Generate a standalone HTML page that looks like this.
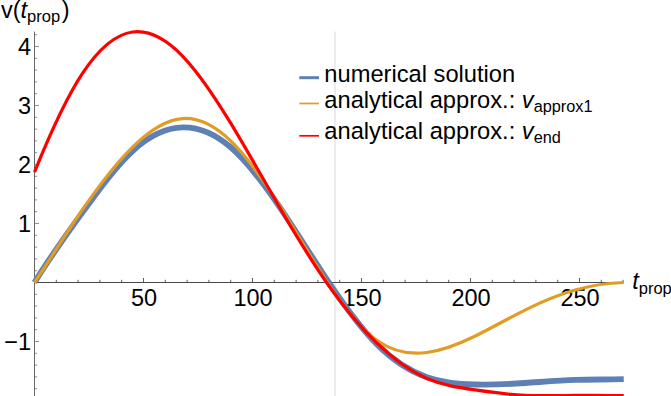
<!DOCTYPE html>
<html><head><meta charset="utf-8"><style>
html,body{margin:0;padding:0;background:#fff;overflow:hidden;}
svg{display:block;font-family:"Liberation Sans",sans-serif;font-size:23.5px;fill:#000;}
.ax line{stroke:#686868;stroke-width:1;}
.ax .tk line{stroke:#6e6e6e;stroke-width:0.75;}
.ax .xa{stroke:#484848;}
.ax .xt line{stroke:#4c4c4c;stroke-width:0.9;}
.sub{font-size:16.5px;}
.lg{font-size:23.7px;}
.lg .sub{font-size:16.3px;}
</style></head><body>
<svg width="671" height="396" viewBox="0 0 671 396">
<rect width="671" height="396" fill="#fff"/>
<line x1="335" y1="31.6" x2="335" y2="396" stroke="#ececec" stroke-width="2"/>
<g class="ax">
<line class="xa" x1="34.5" y1="282.5" x2="623.8" y2="282.5"/>
<line x1="34.5" y1="31.6" x2="34.5" y2="396"/>
<g class="tk"><line x1="34.5" y1="388.7" x2="37.2" y2="388.7"/><line x1="34.5" y1="376.9" x2="37.2" y2="376.9"/><line x1="34.5" y1="365.1" x2="37.2" y2="365.1"/><line x1="34.5" y1="353.3" x2="37.2" y2="353.3"/><line x1="34.5" y1="341.5" x2="39.0" y2="341.5"/><line x1="34.5" y1="329.7" x2="37.2" y2="329.7"/><line x1="34.5" y1="317.9" x2="37.2" y2="317.9"/><line x1="34.5" y1="306.1" x2="37.2" y2="306.1"/><line x1="34.5" y1="294.3" x2="37.2" y2="294.3"/><line x1="34.5" y1="270.7" x2="37.2" y2="270.7"/><line x1="34.5" y1="258.9" x2="37.2" y2="258.9"/><line x1="34.5" y1="247.1" x2="37.2" y2="247.1"/><line x1="34.5" y1="235.3" x2="37.2" y2="235.3"/><line x1="34.5" y1="223.5" x2="39.0" y2="223.5"/><line x1="34.5" y1="211.7" x2="37.2" y2="211.7"/><line x1="34.5" y1="199.9" x2="37.2" y2="199.9"/><line x1="34.5" y1="188.1" x2="37.2" y2="188.1"/><line x1="34.5" y1="176.3" x2="37.2" y2="176.3"/><line x1="34.5" y1="164.5" x2="39.0" y2="164.5"/><line x1="34.5" y1="152.7" x2="37.2" y2="152.7"/><line x1="34.5" y1="140.9" x2="37.2" y2="140.9"/><line x1="34.5" y1="129.1" x2="37.2" y2="129.1"/><line x1="34.5" y1="117.3" x2="37.2" y2="117.3"/><line x1="34.5" y1="105.5" x2="39.0" y2="105.5"/><line x1="34.5" y1="93.7" x2="37.2" y2="93.7"/><line x1="34.5" y1="81.9" x2="37.2" y2="81.9"/><line x1="34.5" y1="70.1" x2="37.2" y2="70.1"/><line x1="34.5" y1="58.3" x2="37.2" y2="58.3"/><line x1="34.5" y1="46.5" x2="39.0" y2="46.5"/><line x1="34.5" y1="34.7" x2="37.2" y2="34.7"/></g><g class="xt"><line x1="56.3" y1="282.5" x2="56.3" y2="279.8"/><line x1="78.1" y1="282.5" x2="78.1" y2="279.8"/><line x1="99.9" y1="282.5" x2="99.9" y2="279.8"/><line x1="121.7" y1="282.5" x2="121.7" y2="279.8"/><line x1="143.5" y1="282.5" x2="143.5" y2="278.0"/><line x1="165.3" y1="282.5" x2="165.3" y2="279.8"/><line x1="187.1" y1="282.5" x2="187.1" y2="279.8"/><line x1="208.9" y1="282.5" x2="208.9" y2="279.8"/><line x1="230.7" y1="282.5" x2="230.7" y2="279.8"/><line x1="252.5" y1="282.5" x2="252.5" y2="278.0"/><line x1="274.3" y1="282.5" x2="274.3" y2="279.8"/><line x1="296.1" y1="282.5" x2="296.1" y2="279.8"/><line x1="317.9" y1="282.5" x2="317.9" y2="279.8"/><line x1="339.7" y1="282.5" x2="339.7" y2="279.8"/><line x1="361.5" y1="282.5" x2="361.5" y2="278.0"/><line x1="383.3" y1="282.5" x2="383.3" y2="279.8"/><line x1="405.1" y1="282.5" x2="405.1" y2="279.8"/><line x1="426.9" y1="282.5" x2="426.9" y2="279.8"/><line x1="448.7" y1="282.5" x2="448.7" y2="279.8"/><line x1="470.5" y1="282.5" x2="470.5" y2="278.0"/><line x1="492.3" y1="282.5" x2="492.3" y2="279.8"/><line x1="514.1" y1="282.5" x2="514.1" y2="279.8"/><line x1="535.9" y1="282.5" x2="535.9" y2="279.8"/><line x1="557.7" y1="282.5" x2="557.7" y2="279.8"/><line x1="579.5" y1="282.5" x2="579.5" y2="278.0"/><line x1="601.3" y1="282.5" x2="601.3" y2="279.8"/><line x1="623.1" y1="282.5" x2="623.1" y2="279.8"/></g>
</g>
<g><text x="144.1" y="305.8" text-anchor="middle">50</text><text x="253.1" y="305.8" text-anchor="middle">100</text><text x="362.1" y="305.8" text-anchor="middle">150</text><text x="471.1" y="305.8" text-anchor="middle">200</text><text x="580.1" y="305.8" text-anchor="middle">250</text><text x="31" y="55.1" text-anchor="end">4</text><text x="31" y="114.1" text-anchor="end">3</text><text x="31" y="173.1" text-anchor="end">2</text><text x="31" y="232.1" text-anchor="end">1</text><text x="31" y="350.1" text-anchor="end">−1</text></g>
<path d="M34.50,282.50 C50.49,256.40 66.47,234.37 82.46,212.37 C99.17,189.37 115.89,166.40 132.60,150.99 C149.31,135.58 166.03,127.74 182.74,127.38 C198.73,127.04 214.71,133.56 230.70,147.34 C246.69,161.12 262.67,182.16 278.66,205.66 C295.37,230.23 312.09,257.48 328.80,282.45 C344.79,306.34 360.77,328.14 376.76,344.17 C393.47,360.94 410.19,371.40 426.90,377.23 C442.89,382.81 458.87,384.15 474.86,384.50 C491.57,384.86 508.29,384.14 525.00,383.03 C541.71,381.92 558.43,380.42 575.14,379.86 C591.34,379.32 607.55,379.66 623.75,379.14" fill="none" stroke="#5e81b5" stroke-width="5.9" stroke-linejoin="round"/>
<path d="M34.50,282.50 C50.49,258.37 66.47,232.93 82.46,209.69 C99.17,185.38 115.89,163.48 132.60,147.04 C149.31,130.59 166.03,119.62 182.74,118.55 C198.73,117.52 214.71,125.57 230.70,140.96 C246.69,156.35 262.67,179.08 278.66,204.30 C295.37,230.67 312.09,259.75 328.80,284.73 C344.79,308.62 360.77,328.77 376.76,340.24 C393.47,352.22 410.19,354.72 426.90,352.53 C442.89,350.43 458.87,344.05 474.86,336.25 C491.57,328.09 508.29,318.38 525.00,310.07 C541.71,301.76 558.43,294.84 575.14,290.06 C591.34,285.43 607.55,282.80 623.75,282.50" fill="none" stroke="#e19c24" stroke-width="3.2" stroke-linejoin="round"/>
<path d="M34.50,172.13 C50.49,132.59 66.47,97.72 82.46,73.44 C99.17,48.06 115.89,34.26 132.60,31.98 C149.31,29.70 166.03,38.94 182.74,56.28 C198.73,72.86 214.71,96.85 230.70,123.18 C246.69,149.52 262.67,178.21 278.66,205.74 C295.37,234.53 312.09,262.06 328.80,285.73 C344.79,308.38 360.77,327.50 376.76,342.97 C393.47,359.15 410.19,371.33 426.90,378.50 C442.89,385.35 458.87,387.62 474.86,389.88 C491.57,392.25 508.29,394.63 525.00,395.40 C541.71,396.16 558.43,395.32 575.14,395.29 C591.34,395.25 607.55,395.98 623.75,395.48" fill="none" stroke="#ff0000" stroke-width="3.2" stroke-linejoin="round"/>
<text x="1" y="17.5">v(<tspan font-style="italic">t</tspan><tspan class="sub" dy="4.3">prop</tspan><tspan dy="-4.3" dx="1.5">)</tspan></text>
<text x="632.2" y="289.2"><tspan font-style="italic">t</tspan><tspan class="sub" dy="4.3">prop</tspan></text>
<line x1="299.3" y1="77.7" x2="319" y2="77.7" stroke="#5e81b5" stroke-width="3"/>
<line x1="299.3" y1="103.5" x2="319" y2="103.5" stroke="#e19c24" stroke-width="1.7"/>
<line x1="299.3" y1="135.8" x2="319" y2="135.8" stroke="#ff0000" stroke-width="1.7"/>
<g class="lg">
<text x="324.3" y="81.5">numerical solution</text>
<text x="324.3" y="107.6">analytical approx.: <tspan font-style="italic">v</tspan><tspan class="sub" dy="4.3">approx1</tspan></text>
<text x="324.3" y="138.9">analytical approx.: <tspan font-style="italic">v</tspan><tspan class="sub" dy="4.3">end</tspan></text>
</g>
</svg>
</body></html>
